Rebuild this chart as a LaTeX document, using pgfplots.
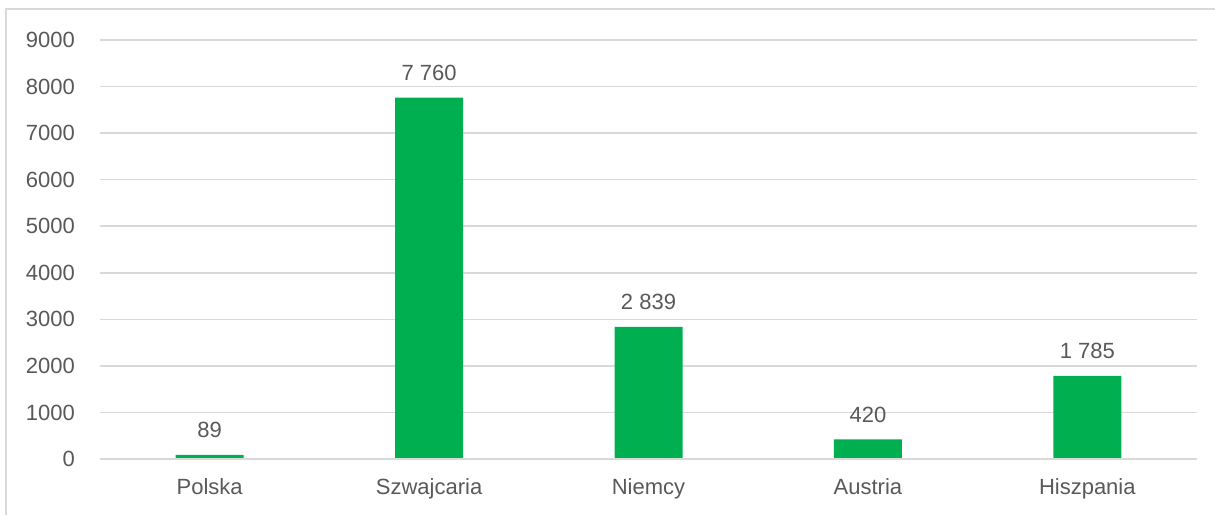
\documentclass[border=0pt]{standalone}
\usepackage{pgfplots}
\pgfplotsset{compat=1.18}
\usepackage{fontspec}
\setmainfont{Liberation Sans}
\definecolor{barg}{HTML}{00B050}
\definecolor{gridc}{HTML}{D9D9D9}
\definecolor{txt}{HTML}{595959}
\begin{document}
\begin{tikzpicture}
\useasboundingbox (0,0) rectangle (607.5pt,257.5pt);
\draw[gridc, line width=1pt] (3pt,0) -- (3pt,253pt) -- (607.5pt,253pt);
\begin{axis}[
  at={(50pt,28pt)}, anchor=south west,
  scale only axis, width=548.5pt, height=209.5pt,
  xmin=-0.5, xmax=4.5, ymin=0, ymax=9000,
  ytick={0,1000,...,9000},
  xtick=data,
  xticklabels={Polska,Szwajcaria,Niemcy,Austria,Hiszpania},
  axis line style={draw=none},
  axis x line*=bottom,
  major tick length=0pt,
  ymajorgrids, grid style={gridc, line width=0.8pt},
  tick label style={font=\fontsize{11}{13}\selectfont, text=txt},
  /pgf/number format/assume math mode=true,
  /pgf/number format/1000 sep={},
  yticklabel style={xshift=-9pt},
  xticklabel style={yshift=-6pt},
  ybar, bar width=34pt,
  nodes near coords={\pgfmathprintnumber[1000 sep={\ }]{\pgfplotspointmeta}},
  every node near coord/.append style={font=\fontsize{11}{13}\selectfont, text=txt, anchor=south, yshift=5pt},
  clip=false,
]
\addplot[fill=barg, draw=none] coordinates {(0,89) (1,7760) (2,2839) (3,420) (4,1785)};
\draw[gridc, line width=0.8pt] (axis cs:-0.5,0) -- (axis cs:4.5,0);
\end{axis}
\end{tikzpicture}
\end{document}
